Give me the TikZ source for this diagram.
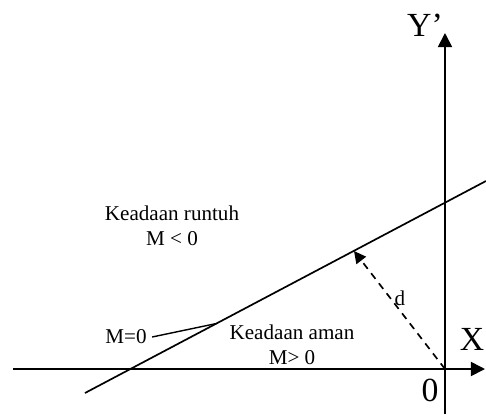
\documentclass[tikz,border=0pt]{standalone}
\usepackage{fontspec}
\setmainfont{Liberation Serif}
\usetikzlibrary{arrows.meta, positioning}

\begin{document}
\begin{tikzpicture}[>={Triangle[length=10pt, width=10pt]}, line width=1.2pt]
  \useasboundingbox (-11.125, -1.125) rectangle (1.025, 9.225);
  \tikzset{region/.style={font=\fontsize{15}{18}\selectfont, align=center},
           axislabel/.style={font=\fontsize{24}{28}\selectfont}}

  % Axes
  \coordinate (O) at (0, 0);
  \coordinate (xstart) at (-10.8, 0);
  \coordinate (xend) at (1.0, 0);
  \coordinate (ystart) at (0, -1.125);
  \coordinate (yend) at (0, 8.4);
  \draw[->] (xstart) -- (xend);
  \draw[->] (ystart) -- (yend);
  \node[axislabel] (xlab) at (0.675, 0.75) {X};
  \node[axislabel] (ylab) at (-0.5, 8.6) {Y’};
  \node[axislabel] (olab) at (-0.375, -0.525) {0};

  % Limit line M=0
  \coordinate (lstart) at (-9.0, -0.6);
  \coordinate (lend) at (1.025, 4.7);
  \draw (lstart) -- (lend);
  \coordinate (lmark) at (-5.7, 1.14);
  \coordinate (lfoot) at (-2.275, 2.95);

  % Distance d
  \draw[->, >={Triangle[length=8.5pt, width=8.5pt]}, dash pattern=on 5pt off 4pt]
    (O) -- (lfoot);
  \node[region] (dlab) at (-1.125, 1.775) {d};

  % Regions
  \node[region] (runtuh) at (-6.825, 3.575) {Keadaan runtuh\\M < 0};
  \node[region] (aman) at (-3.825, 0.6) {Keadaan aman\\M> 0};
  \node[region] (mzero) at (-7.975, 0.8) {M=0};
  \draw[line width=1pt] (mzero.east) -- (lmark);
\end{tikzpicture}
\end{document}
